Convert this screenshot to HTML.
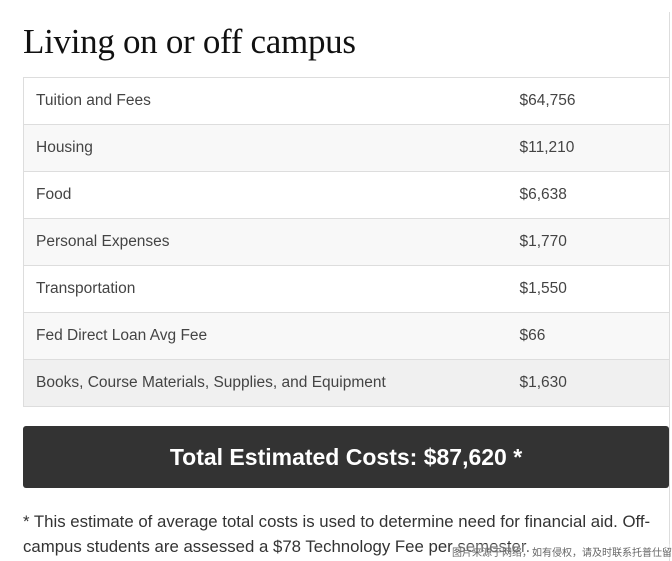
<!DOCTYPE html><html><head><meta charset="utf-8"><style>
body{margin:0;width:672px;height:561px;overflow:hidden;background:#fff;font-family:"Liberation Sans",sans-serif;position:relative}
h1{position:absolute;left:23px;top:22px;margin:0;font:normal 35px "Liberation Serif",serif;color:#111;letter-spacing:-0.3px}
table{position:absolute;left:23px;top:77px;width:646px;border-collapse:collapse;border:1px solid #ddd;font-size:15.5px;color:#444;table-layout:fixed}
td{height:46px;border-top:1px solid #ddd;padding:0 0 0 12px}
td.v{width:138px;padding-left:0}
tr:nth-child(even){background:#f8f8f8}
tr:last-child{background:#f0f0f0}
.tot{position:absolute;left:23px;top:426px;width:646px;height:62px;background:#333;border-radius:3px;color:#fff;font:bold 23px "Liberation Sans",sans-serif;text-align:center;line-height:62px}
.note{position:absolute;left:23px;top:509px;width:642px;font-size:16.8px;line-height:25px;color:#333}
.wm{position:absolute;left:452px;top:544px;font:10px "Noto Sans CJK SC",sans-serif;color:#666;white-space:nowrap;background:rgba(255,255,255,0.3)}
.edge{position:absolute;left:669px;top:12px;width:1px;height:549px;background:#ddd}
</style></head><body>
<div class="edge"></div>
<h1>Living on or off campus</h1>
<table>
<colgroup><col style="width:496px"><col style="width:150px"></colgroup>
<tr><td>Tuition and Fees</td><td class="v">$64,756</td></tr>
<tr><td>Housing</td><td class="v">$11,210</td></tr>
<tr><td>Food</td><td class="v">$6,638</td></tr>
<tr><td>Personal Expenses</td><td class="v">$1,770</td></tr>
<tr><td>Transportation</td><td class="v">$1,550</td></tr>
<tr><td>Fed Direct Loan Avg Fee</td><td class="v">$66</td></tr>
<tr><td>Books, Course Materials, Supplies, and Equipment</td><td class="v">$1,630</td></tr>
</table>
<div class="tot">Total Estimated Costs: $87,620 *</div>
<div class="note">* This estimate of average total costs is used to determine need for financial aid. Off-campus students are assessed a $78 Technology Fee per semester.</div>
<div class="wm">图片来源于网络，如有侵权，请及时联系托普仕留学删除</div>
</body></html>
